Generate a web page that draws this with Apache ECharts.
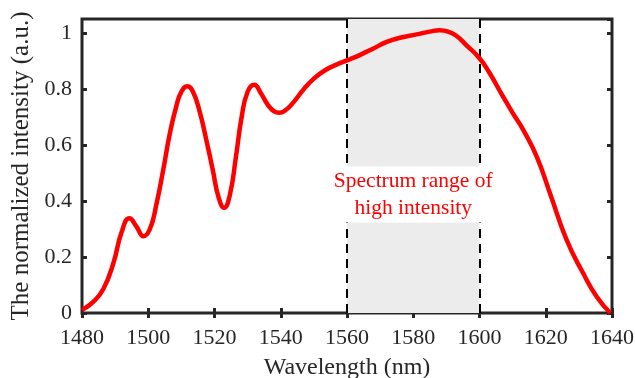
<!DOCTYPE html>
<html>
<head>
<meta charset="utf-8">
<script src="https://cdn.jsdelivr.net/npm/echarts@6/dist/echarts.min.js"></script>
<style>
  html, body { margin: 0; padding: 0; background: #fff; }
  #chart { width: 635px; height: 378px; }
</style>
</head>
<body>
<div id="chart"></div>
<script>
// values
var wavelength = [1480, 1483.4, 1486.4, 1489.4, 1492, 1494.3, 1496.5, 1498.5, 1500.5,
  1502.5, 1504.5, 1506.5, 1508.5, 1510, 1511.8, 1513.5, 1515.5, 1517.5, 1519.5,
  1521.2, 1522.9, 1524.6, 1526.5, 1528.2, 1530, 1532, 1534, 1536, 1538,
  1539.5, 1541.5, 1544, 1547, 1550, 1553.5, 1557, 1560, 1564, 1568,
  1572, 1576, 1581, 1585, 1588, 1590.5, 1593, 1596, 1600, 1603,
  1607, 1610, 1613.2, 1617.3, 1621.3, 1626.3, 1631.3, 1635.4, 1639.5];
var intensity = [0.011, 0.04, 0.085, 0.175, 0.29, 0.338, 0.308, 0.274, 0.3,
  0.39, 0.51, 0.64, 0.74, 0.79, 0.81, 0.79, 0.72, 0.62, 0.51,
  0.415, 0.376, 0.42, 0.56, 0.7, 0.79, 0.815, 0.785, 0.745, 0.72,
  0.715, 0.725, 0.755, 0.8, 0.837, 0.868, 0.888, 0.902, 0.922, 0.945,
  0.968, 0.983, 0.995, 1.005, 1.01, 1.005, 0.99, 0.957, 0.91, 0.858,
  0.775, 0.715, 0.654, 0.558, 0.427, 0.261, 0.142, 0.058, 0.0];
var rangeStart = 1560;
var rangeEnd = 1600;
var rangeLabel = "Spectrum range of\nhigh intensity";

var font = "Liberation Serif";
var axisColor = "#262626";

var chart = echarts.init(document.getElementById("chart"));
chart.setOption({
  animation: false,
  grid: {
    left: 82,
    right: 23,
    top: 19,
    bottom: 65,
    outerBoundsMode: "none",
    show: true,
    borderColor: axisColor,
    borderWidth: 3
  },
  xAxis: [
    {
      type: "value",
      min: 1480,
      max: 1640,
      interval: 20,
      name: "Wavelength (nm)",
      nameLocation: "middle",
      nameGap: 43,
      nameTextStyle: { fontFamily: font, fontSize: 24, color: axisColor },
      axisLine: { show: false },
      axisTick: { inside: true, length: 5, lineStyle: { color: axisColor, width: 3 } },
      axisLabel: {
        fontFamily: font, fontSize: 22, color: axisColor, margin: 14,
        formatter: function (v) { return String(v); }
      },
      splitLine: { show: false }
    },
    {
      type: "value",
      position: "top",
      min: 1480,
      max: 1640,
      interval: 20,
      axisLine: { show: false },
      axisTick: { inside: true, length: 5, lineStyle: { color: axisColor, width: 3 } },
      axisLabel: { show: false },
      splitLine: { show: false }
    }
  ],
  yAxis: [
    {
      type: "value",
      min: 0,
      max: 1.05,
      interval: 0.2,
      name: "The normalized intensity (a.u.)",
      nameLocation: "middle",
      nameGap: 38,
      nameTextStyle: { fontFamily: font, fontSize: 25, color: axisColor },
      axisLine: { show: false },
      axisTick: { inside: true, length: 5, lineStyle: { color: axisColor, width: 3 } },
      axisLabel: { fontFamily: font, fontSize: 22, color: axisColor, margin: 10, showMaxLabel: false },
      splitLine: { show: false }
    },
    {
      type: "value",
      position: "right",
      min: 0,
      max: 1.05,
      interval: 0.2,
      axisLine: { show: false },
      axisTick: { inside: true, length: 5, lineStyle: { color: axisColor, width: 3 } },
      axisLabel: { show: false },
      splitLine: { show: false }
    }
  ],
  series: [
    {
      type: "line",
      data: wavelength.map(function (w, i) { return [w, intensity[i]]; }),
      smooth: 0.5,
      showSymbol: false,
      lineStyle: { color: "#ff0000", width: 4.5 },
      z: 5,
      markArea: {
        silent: true,
        itemStyle: { color: "#ececec" },
        data: [[{ xAxis: rangeStart }, { xAxis: rangeEnd }]]
      },
      markLine: {
        silent: true,
        symbol: "none",
        label: { show: false },
        lineStyle: { color: "#000", width: 2, type: [9, 6] },
        data: [{ xAxis: rangeStart }, { xAxis: rangeEnd }]
      },
      markPoint: {
        silent: true,
        symbol: "rect",
        symbolSize: 0,
        label: {
          show: true,
          position: "inside",
          formatter: rangeLabel,
          fontFamily: font,
          fontSize: 21.5,
          lineHeight: 27,
          color: "#ff0000",
          backgroundColor: "#fff",
          padding: [1, 5]
        },
        data: [{ coord: [1580, 0.423] }]
      }
    }
  ]
});
</script>
</body>
</html>
